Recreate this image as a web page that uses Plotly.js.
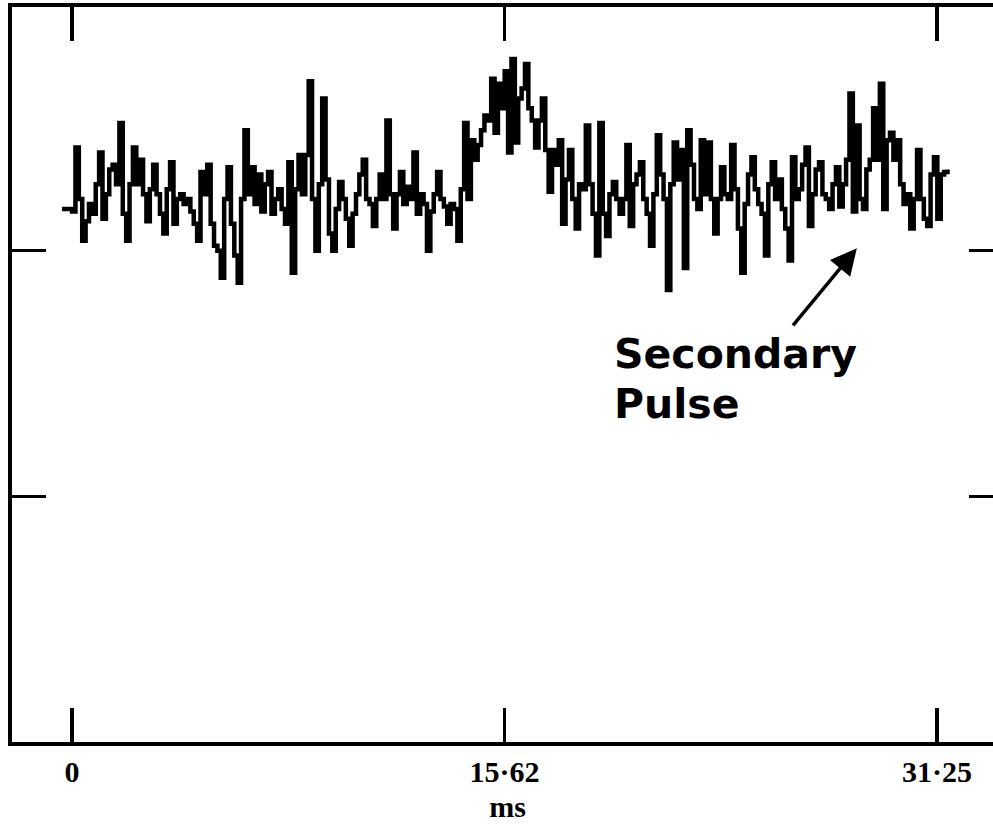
<!DOCTYPE html>
<html>
<head>
<meta charset="utf-8">
<script src="https://cdn.plot.ly/plotly-3.0.1.min.js"></script>
<style>
html, body { margin: 0; padding: 0; background: #fff; overflow: hidden; }
#chart { width: 1010px; height: 840px; }
</style>
</head>
<body>
<div id="chart"></div>
<script>
// Pulse profile: intensity per phase bin (arbitrary units), bins of 31.25/256 ms
const binStart = -0.366;      // ms, first bin
const binWidth = 0.1221;      // ms per bin
const intensity = [
  21.7, 21.7, 21.7, 21.6, 24.2, 22.1, 20.4, 21.2, 21.9, 21.5,
  22.7, 24.0, 21.3, 22.3, 23.3, 23.5, 22.7, 25.2, 21.5, 20.4,
  22.7, 24.2, 22.7, 23.7, 22.3, 21.2, 22.5, 23.5, 22.3, 21.5,
  20.7, 22.5, 23.6, 21.1, 22.1, 22.3, 21.9, 22.1, 21.6, 21.1,
  20.4, 23.2, 22.3, 23.5, 21.1, 20.2, 20.0, 18.9, 22.1, 23.4,
  21.1, 19.8, 18.7, 22.1, 24.9, 22.3, 23.4, 21.9, 23.1, 21.6,
  22.7, 23.2, 21.5, 22.1, 22.5, 21.7, 21.1, 23.6, 19.1, 22.5,
  23.9, 22.3, 23.9, 26.9, 22.1, 20.0, 22.7, 26.2, 22.9, 20.7,
  20.0, 21.7, 22.8, 22.1, 21.3, 20.2, 21.5, 22.3, 23.1, 23.7,
  22.1, 21.9, 21.0, 22.1, 23.1, 22.1, 25.3, 22.3, 20.9, 22.3,
  23.2, 21.9, 22.6, 22.1, 24.0, 21.5, 22.3, 21.9, 20.0, 21.6,
  22.3, 23.2, 22.1, 21.8, 21.1, 21.9, 21.7, 20.4, 22.5, 25.2,
  22.1, 24.5, 23.7, 24.3, 24.9, 25.5, 25.3, 27.0, 24.8, 26.8,
  25.8, 27.3, 24.0, 27.8, 24.4, 26.2, 26.6, 27.6, 25.8, 25.3,
  24.2, 25.3, 26.2, 24.1, 22.4, 24.1, 23.5, 24.5, 21.1, 22.9,
  24.1, 22.1, 20.9, 22.7, 22.5, 25.1, 22.7, 21.5, 19.8, 25.2,
  21.5, 20.6, 22.3, 22.8, 22.1, 21.5, 22.1, 24.3, 21.0, 22.7,
  23.1, 23.6, 22.1, 21.5, 20.2, 22.3, 24.7, 23.1, 22.1, 18.4,
  22.7, 24.4, 22.9, 24.1, 19.3, 24.9, 23.5, 22.1, 21.7, 24.5,
  22.3, 24.4, 22.1, 20.7, 22.1, 23.4, 22.3, 22.1, 24.3, 22.5,
  20.9, 19.1, 21.9, 23.1, 23.8, 22.5, 21.9, 21.5, 19.8, 22.7,
  23.6, 22.1, 22.9, 21.7, 20.9, 19.6, 23.8, 22.1, 22.5, 23.5,
  24.2, 21.0, 22.3, 23.3, 23.6, 22.3, 22.1, 21.7, 22.7, 23.4,
  21.8, 22.7, 23.7, 26.4, 21.6, 25.1, 22.1, 21.7, 23.3, 23.7,
  25.8, 23.7, 26.8, 21.7, 24.5, 24.8, 23.7, 24.5, 22.7, 21.9,
  22.3, 20.9, 22.1, 24.1, 22.1, 21.3, 21.0, 23.1, 23.8, 21.3,
  23.1, 23.2, 23.3
];

const xTickVals = [0, 15.62, 31.25];
const xTickText = ['0', '15·62', '31·25'];
const xTitle = 'ms';
const yTickVals = [10, 20];
const noteLines = ['Secondary', 'Pulse'];
const noteX = 19.5;            // ms
const noteY = [15.8, 13.75];   // intensity units
const arrowHead = [28.35, 20.1];
const arrowTail = [26.0, 16.9];

const trace = {
  type: 'scatter',
  mode: 'lines',
  x0: binStart,
  dx: binWidth,
  y: intensity,
  line: { color: '#000', width: 4.5, shape: 'hv' },
  hoverinfo: 'skip'
};

const noteFont = { family: 'DejaVu Sans', size: 41, color: '#000', weight: 'bold' };
const annotations = noteLines.map((t, i) => ({
  x: noteX, y: noteY[i], xref: 'x', yref: 'y',
  text: t, showarrow: false, xanchor: 'left', yanchor: 'middle',
  font: noteFont
}));
annotations.push({
  x: arrowHead[0], y: arrowHead[1], xref: 'x', yref: 'y',
  ax: arrowTail[0], ay: arrowTail[1], axref: 'x', ayref: 'y',
  text: '', showarrow: true, arrowhead: 2, arrowsize: 1.5, arrowwidth: 3.5,
  arrowcolor: '#000'
});

const labelFont = { family: 'Liberation Serif', size: 30, color: '#000', weight: 'bold' };

const layout = {
  width: 1010,
  height: 840,
  margin: { l: 12, r: 7, t: 7, b: 98 },
  paper_bgcolor: '#fff',
  plot_bgcolor: '#fff',
  showlegend: false,
  xaxis: {
    range: [-2.17, 33.63],
    tickvals: xTickVals,
    ticktext: xTickText,
    ticks: 'inside',
    ticklen: 34,
    tickwidth: 3.5,
    tickcolor: '#000',
    showline: true,
    linewidth: 4,
    linecolor: '#000',
    mirror: 'ticks',
    showgrid: false,
    zeroline: false,
    automargin: false,
    ticklabelstandoff: 0,
    tickfont: labelFont,
    title: { text: xTitle, standoff: 10, font: labelFont }
  },
  yaxis: {
    range: [0, 29.92],
    tickvals: yTickVals,
    showticklabels: false,
    ticks: 'inside',
    ticklen: 34,
    tickwidth: 3.5,
    tickcolor: '#000',
    showline: true,
    linewidth: 4,
    linecolor: '#000',
    mirror: 'ticks',
    showgrid: false,
    zeroline: false
  },
  annotations: annotations
};

Plotly.newPlot('chart', [trace], layout, { displayModeBar: false, staticPlot: true });
</script>
</body>
</html>
